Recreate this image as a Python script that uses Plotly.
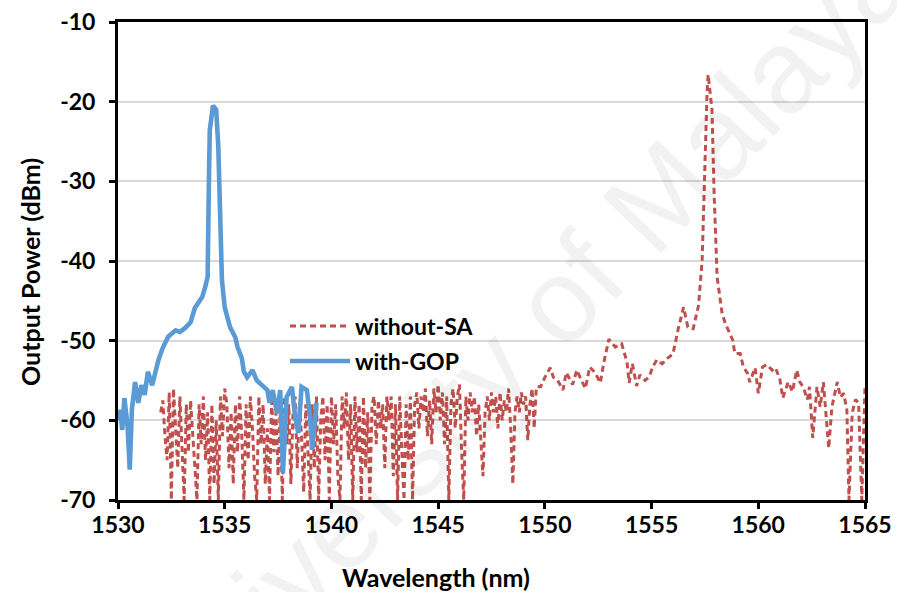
import plotly.graph_objects as go

# ---------------- data ----------------
# Laser output spectrum without saturable absorber (OSA trace).
# Noise floor region sampled every 0.1 nm starting at 1532.0 nm.
noise_start_nm = 1532.0
noise_step_nm = 0.1
noise_dbm = [
    -59, -57.5, -62, -65, -56.5, -70, -56, -61, -66, -57,
    -63, -70, -58, -64, -57.5, -62, -67, -70, -58, -63,
    -57, -65, -59, -70, -58, -68, -60, -70, -57, -62,
    -56, -58, -66, -59, -68, -58, -64, -57, -62, -70,
    -58, -65, -57, -61, -67, -70, -57, -63, -58, -68,
    -61, -70, -57, -64, -59, -67, -58, -70, -57, -63,
    -58, -68, -59, -57, -66, -58, -62, -69, -58, -64,
    -70, -58, -66, -57, -70, -60, -57, -65, -58, -70,
    -57, -63, -58, -67, -70, -57, -61, -56.5, -65, -58,
    -70, -57, -64, -58, -70, -57, -66, -59, -70, -58,
    -57, -63, -57.5, -61, -58, -66, -57, -60, -57, -67,
    -58, -70, -57, -64, -70, -58, -65, -57, -70, -58,
    -56.5, -61, -57, -59, -56, -62, -57.5, -63, -56, -59,
    -55.5, -60, -56.5, -63, -57, -70, -58, -56, -61, -57,
    -55.5, -64, -70, -57, -60, -56.5, -59, -57, -62, -58,
    -63, -67, -59, -57, -60, -56.5, -59, -57, -61, -56.5,
    -60, -57.5, -59, -56, -61, -68, -59, -57, -59, -56.5,
    -58, -57, -62.5, -58, -56,
]

# Remaining part of the trace: rise, side peaks, main lasing line and tail.
sa_tail_nm = [
    1549.5, 1549.6, 1549.8, 1550.0, 1550.25, 1550.4, 1550.6, 1550.85, 1551.0,
    1551.3, 1551.5, 1551.65, 1551.9, 1552.1, 1552.35, 1552.6, 1552.75, 1553.0,
    1553.3, 1553.6, 1553.85, 1553.95, 1554.1, 1554.3, 1554.45, 1554.7, 1554.9,
    1555.05, 1555.25, 1555.5, 1555.7, 1556.0, 1556.25, 1556.5, 1556.7, 1556.95,
    1557.2, 1557.37, 1557.5, 1557.6, 1557.65, 1557.83, 1557.93, 1558.07, 1558.3,
    1558.45, 1558.8, 1558.9, 1559.15, 1559.3, 1559.5, 1559.6, 1559.85, 1560.0,
    1560.2, 1560.4, 1560.65, 1560.8, 1561.0, 1561.15, 1561.4, 1561.6, 1561.8,
    1561.95, 1562.1, 1562.3, 1562.4, 1562.55, 1562.75, 1562.9, 1563.05, 1563.2,
    1563.3, 1563.45, 1563.7, 1563.85, 1564.0, 1564.15, 1564.25, 1564.4, 1564.55,
    1564.7, 1564.85, 1565.0,
]
sa_tail_dbm = [
    -61, -55.8, -55.8, -54.6, -53.4, -54.6, -55, -56.2, -54,
    -55.5, -53.7, -54.6, -56, -53.3, -54, -55.3, -52.9, -49.8,
    -50.8, -50.4, -52.7, -55.3, -52.9, -55.7, -54.3, -55, -54.5,
    -53.3, -52.4, -52.9, -52.3, -51.7, -48.5, -45.8, -48.3, -48.5,
    -45.6, -39.9, -27.3, -18.9, -16.6, -21, -31.5, -42, -46.5,
    -47.8, -49.9, -51.6, -51.6, -53.3, -54.1, -55.2, -53.4, -56.6,
    -53.3, -53, -53.7, -53.4, -54.7, -57.2, -55.2, -56.4, -53.7,
    -55.2, -55.8, -57.4, -55.8, -62.2, -55.8, -58.3, -55.2, -59.6,
    -63.5, -58.3, -55.2, -57.1, -56.6, -58.7, -70, -59.1, -57.4,
    -57.8, -70, -55.8,
]

# Output spectrum with the GOP saturable absorber.
gop_nm = [
    1530.0, 1530.1, 1530.2, 1530.3, 1530.45, 1530.55, 1530.65, 1530.8, 1530.95,
    1531.1, 1531.25, 1531.4, 1531.6, 1531.75, 1531.9, 1532.1, 1532.35, 1532.7,
    1532.9, 1533.15, 1533.4, 1533.6, 1533.95, 1534.08, 1534.2, 1534.26, 1534.3,
    1534.45, 1534.6, 1534.7, 1534.78, 1534.87, 1535.0, 1535.25, 1535.5, 1535.6,
    1535.8, 1535.9, 1536.05, 1536.3, 1536.5, 1536.75, 1537.0, 1537.1, 1537.25,
    1537.45, 1537.6, 1537.73, 1537.9, 1538.15, 1538.3, 1538.45, 1538.6, 1538.85,
    1539.0, 1539.1, 1539.25, 1539.3,
]
gop_dbm = [
    -60, -58.7, -61.2, -57.2, -60.8, -66.2, -58.7, -55.2, -57.8,
    -55.6, -56.8, -53.9, -55.6, -53.7, -52.4, -50.9, -49.5, -48.7,
    -48.9, -48.4, -47.7, -45.9, -44.5, -43.3, -42, -29.8, -23.6,
    -20.5, -21, -25.7, -34, -42.4, -45.8, -48.3, -49.6, -50.8,
    -52.2, -53.9, -54.6, -53.7, -55, -55.6, -56.2, -57.8, -56.2,
    -59.1, -56.2, -66.6, -57.1, -55.8, -59.6, -61.6, -55.8, -56.2,
    -59.6, -63.7, -58.7, -57.8,
]

x_ticks = [1530, 1535, 1540, 1545, 1550, 1555, 1560, 1565]
y_ticks = [-70, -60, -50, -40, -30, -20, -10]
y_tick_text = ["-70", "-60", "-50", "-40", "-30", "-20", "-10"]

# --------------- build ----------------
noise_nm = [round(noise_start_nm + noise_step_nm * i, 2) for i in range(len(noise_dbm))]
sa_nm = noise_nm + sa_tail_nm
sa_dbm = noise_dbm + sa_tail_dbm

RED = "#C0504D"
BLUE = "#5B9BD5"
FONT = "Lato"
W, H = 897, 592
L, R, T, B = 118, 32, 22, 92


def px_to_paper(px, py):
    return (px - L) / (W - L - R), (H - B - py) / (H - T - B)


fig = go.Figure()
fig.add_trace(go.Scatter(
    x=sa_nm, y=sa_dbm, mode="lines", name="without-SA", legend="legend",
    line=dict(color=RED, width=3, dash="6px,4px"),
))
fig.add_trace(go.Scatter(
    x=gop_nm, y=gop_dbm, mode="lines", name="with-GOP", legend="legend2",
    line=dict(color=BLUE, width=4.6),
))

axis_common = dict(
    showline=True, linecolor="black", linewidth=3, mirror=True,
    ticks="outside", ticklen=6, tickwidth=2.5, tickcolor="black",
    tickfont=dict(family=FONT, size=23, color="black", weight="bold"),
    zeroline=False, automargin=False,
)

fig.update_xaxes(range=[1530, 1565], tickvals=x_ticks, showgrid=False,
                 ticklabelstandoff=-4, **axis_common)
fig.update_yaxes(range=[-70, -10], tickvals=y_ticks, ticktext=y_tick_text, showgrid=True,
                 gridcolor="#D9D9D9", gridwidth=1.5, ticklabelstandoff=9, **axis_common)

title_font = dict(family=FONT, size=25, color="black", weight="bold")
tx, ty = px_to_paper(436, 577)
fig.add_annotation(text="Wavelength (nm)", xref="paper", yref="paper", x=tx, y=ty,
                   showarrow=False, font=title_font, xanchor="center", yanchor="middle")
tx, ty = px_to_paper(30, 272)
fig.add_annotation(text="Output Power (dBm)", xref="paper", yref="paper", x=tx, y=ty,
                   showarrow=False, font=title_font, textangle=-90,
                   xanchor="center", yanchor="middle")

# faint institutional watermark across the page
wx, wy = px_to_paper(520, 340)
fig.add_annotation(
    text="University of Malaya", xref="paper", yref="paper",
    x=wx, y=wy, showarrow=False, textangle=-46,
    font=dict(family="Liberation Sans", size=118, color="rgba(0,0,0,0.05)"),
    xanchor="center", yanchor="middle",
)

legend_font = dict(family=FONT, size=23, color="black", weight="bold")
lx, ly1 = px_to_paper(285, 326)
_, ly2 = px_to_paper(285, 361)
fig.update_layout(
    width=W, height=H,
    margin=dict(l=L, r=R, t=T, b=B, autoexpand=False),
    paper_bgcolor="white", plot_bgcolor="white",
    showlegend=True,
    legend=dict(x=lx, y=ly1, xanchor="left", yanchor="middle",
                bgcolor="rgba(0,0,0,0)", itemwidth=60, font=legend_font),
    legend2=dict(x=lx, y=ly2, xanchor="left", yanchor="middle",
                 bgcolor="rgba(0,0,0,0)", itemwidth=60, font=legend_font),
)

fig.write_html("out.html")
